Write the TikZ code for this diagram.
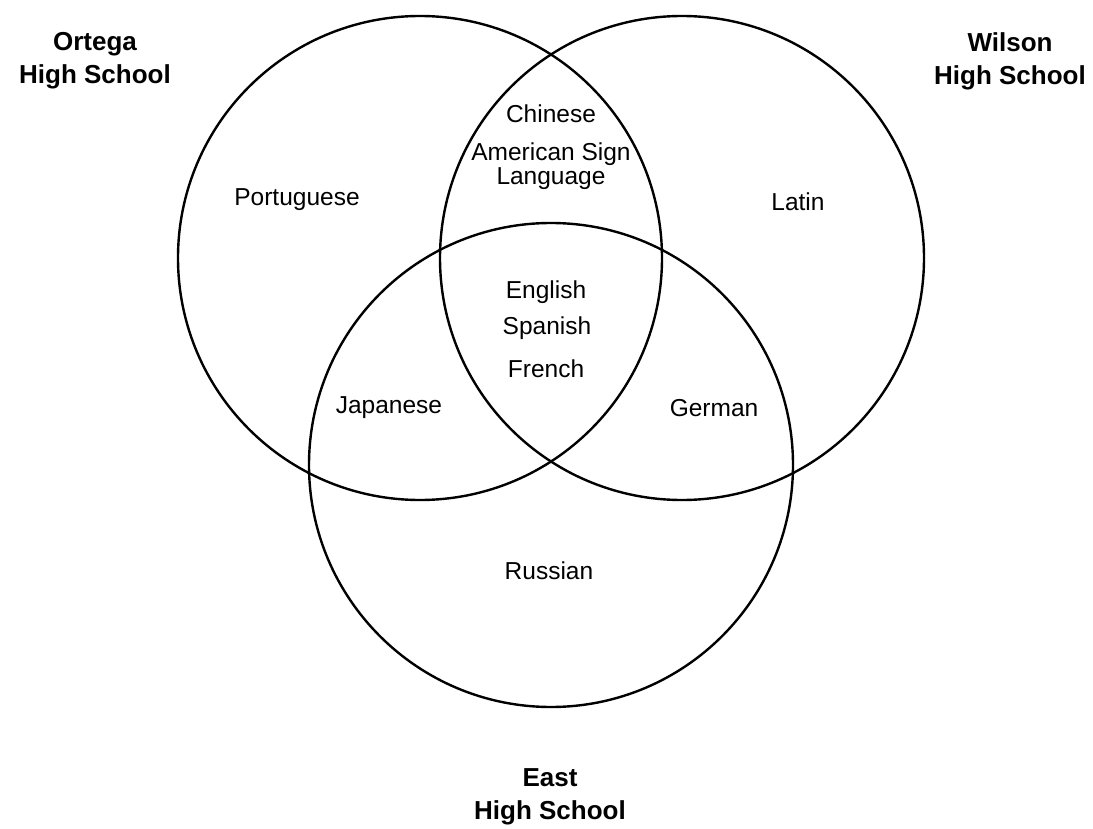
\documentclass[tikz,border=0pt]{standalone}
\usepackage{fontspec}
\setmainfont{Liberation Sans}
\begin{document}
\begin{tikzpicture}[x=1pt,y=-1pt,
  setc/.style={circle,draw,line width=2.4pt,minimum size=484pt,inner sep=0pt},
  school/.style={font=\fontsize{26}{33}\selectfont\bfseries,align=center,inner sep=0pt},
  lang/.style={font=\fontsize{24.5}{23.5}\selectfont,align=center,inner sep=0pt}]
\useasboundingbox (0,0) rectangle (1093,829);
\node[setc] (ortega) at (420,258) {};
\node[setc] (wilson) at (682,258) {};
\node[setc] (east) at (551,465) {};
\node[school] (ortegaL) at (95,61) {Ortega\\High School};
\node[school] (wilsonL) at (1010,61) {Wilson\\High School};
\node[school] (eastL) at (550,797) {East\\High School};
\node[lang] (portuguese) at (297,200) {Portuguese};
\node[lang] (chinese) at (551,114) {Chinese};
\node[lang] (asl) at (551,166) {American Sign\\Language};
\node[lang] (latin) at (798,202) {Latin};
\node[lang] (english) at (546,292) {English};
\node[lang] (spanish) at (547,328) {Spanish};
\node[lang] (french) at (546,369) {French};
\node[lang] (japanese) at (389,408) {Japanese};
\node[lang] (german) at (714,408) {German};
\node[lang] (russian) at (549,571) {Russian};
\end{tikzpicture}
\end{document}
